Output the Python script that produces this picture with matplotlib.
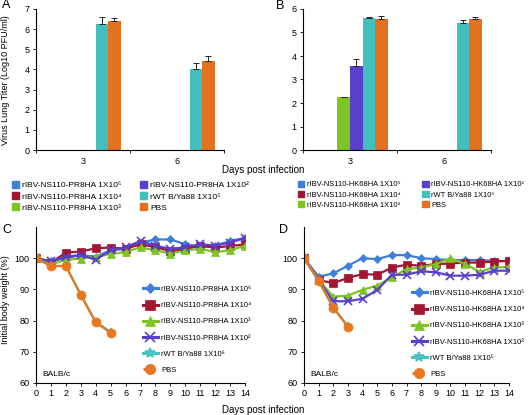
import numpy as np
import matplotlib
matplotlib.use('Agg')
import matplotlib.pyplot as plt
from matplotlib.lines import Line2D
from matplotlib.patches import Patch

plt.rcParams['font.family'] = ['Liberation Sans', 'DejaVu Sans']

W, H = 528, 415

# --- Data: lung titers (bars) ---
bar_days = ['3', '6']
bar_colors = ['#3d7fd9', '#a31530', '#7cc522', '#5a3ecc', '#43bfbf', '#e2721f']

labels_A = ['rIBV-NS110-PR8HA 1X10⁵', 'rIBV-NS110-PR8HA 1X10⁴', 'rIBV-NS110-PR8HA 1X10³',
            'rIBV-NS110-PR8HA 1X10²', 'rWT B/Ya88 1X10⁵', 'PBS']
titer_A = [[0, 0], [0, 0], [0, 0], [0, 0], [6.25, 4.0], [6.40, 4.43]]
err_A = [[0, 0], [0, 0], [0, 0], [0, 0], [0.33, 0.30], [0.13, 0.22]]

labels_B = ['rIBV-NS110-HK68HA 1X10⁵', 'rIBV-NS110-HK68HA 1X10⁴', 'rIBV-NS110-HK68HA 1X10³',
            'rIBV-NS110-HK68HA 1X10²', 'rWT B/Ya88 1X10⁵', 'PBS']
titer_B = [[0, 0], [0, 0], [2.27, 0], [3.59, 0], [5.62, 5.42], [5.56, 5.56]]
err_B = [[0, 0], [0, 0], [0, 0], [0.30, 0], [0.06, 0.10], [0.15, 0.09]]

# --- Data: body weight (lines) ---
days = list(range(15))
labels_C = ['rIBV-NS110-PR8HA 1X10⁶', 'rIBV-NS110-PR8HA 1X10⁴', 'rIBV-NS110-PR8HA 1X10³',
            'rIBV-NS110-PR8HA 1X10²', 'rWT B/Ya88 1X10⁶', 'PBS']
weight_C = [
    [100, 99.0, 100.0, 101.0, 100.5, 102.5, 103.0, 105.0, 106.0, 106.0, 104.5, 103.5, 104.0, 105.5, 106.5],
    [100, 98.5, 101.8, 102.1, 103.2, 103.4, 103.0, 104.5, 103.5, 102.3, 102.9, 104.0, 103.4, 103.9, 104.4],
    [100, 98.0, 99.5, 99.9, 100.5, 101.3, 102.0, 103.5, 102.5, 101.5, 102.5, 103.0, 102.0, 102.5, 104.0],
    [100, 99.0, 100.5, 101.0, 99.5, 102.5, 103.5, 105.5, 104.0, 103.0, 103.5, 104.5, 104.0, 105.0, 106.5],
    [100, 97.5, 97.5, 88.3, 79.6, 76.4],
    [100, 97.5, 97.5, 88.2, 79.4, 76.1],
]
labels_D = ['rIBV-NS110-HK68HA 1X10⁵', 'rIBV-NS110-HK68HA 1X10⁴', 'rIBV-NS110-HK68HA 1X10³',
            'rIBV-NS110-HK68HA 1X10²', 'rWT B/Ya88 1X10⁵', 'PBS']
weight_D = [
    [100, 94.1, 95.1, 97.6, 100.0, 99.7, 101.0, 101.0, 100.0, 99.7, 99.4, 99.4, 99.4, 99.2, 99.0],
    [100, 93.0, 92.0, 93.7, 94.9, 94.7, 97.0, 97.9, 97.6, 98.1, 98.3, 98.6, 98.6, 98.9, 99.2],
    [100, 93.0, 87.7, 88.0, 89.9, 91.2, 93.9, 96.5, 97.0, 98.1, 100.0, 98.1, 95.7, 97.0, 97.2],
    [100, 93.0, 86.2, 86.2, 87.0, 89.8, 94.7, 94.7, 95.8, 95.5, 94.4, 94.4, 94.7, 96.0, 96.0],
    [100, 92.6, 84.3, 78.2],
    [100, 92.8, 84.1, 78.0],
]

line_colors = ['#3d7fd9', '#a31530', '#7cc522', '#5a3ecc', '#45c4c4', '#e8771f']
line_markers = ['D', 's', '^', 'x', '*', 'o']
line_msize = [4.5, 6, 6, 6, 6, 6.5]


def px_axes(fig, left, right, top, bottom):
    return fig.add_axes([left / W, 1 - bottom / H, (right - left) / W, (bottom - top) / H])


def style_axes(ax):
    for s in ['top', 'right']:
        ax.spines[s].set_visible(False)
    for s in ['left', 'bottom']:
        ax.spines[s].set_linewidth(0.8)
    ax.tick_params(labelsize=6.5, length=2.5, width=0.6, pad=2)


fig = plt.figure(figsize=(W / 100, H / 100), dpi=100)


def bar_panel(ax, values, errs, labels, ymax, leg_x, colspace, leg_fs):
    n = len(values)
    width = 0.8 / n
    centers = np.arange(len(bar_days)) + 0.5
    for i in range(n):
        pos = centers + (i - (n - 1) / 2) * width
        vals = np.array(values[i], dtype=float)
        e = np.array(errs[i], dtype=float)
        mask = vals > 0
        if mask.any():
            ax.bar(pos[mask], vals[mask], width, color=bar_colors[i], linewidth=0)
            ax.errorbar(pos[mask], vals[mask], yerr=[np.zeros(mask.sum()), e[mask]],
                        fmt='none', ecolor='#222222', elinewidth=0.7, capsize=2, capthick=0.7)
    ax.set_xlim(0, 2)
    ax.set_ylim(0, ymax)
    ax.set_yticks(range(ymax + 1))
    ax.set_xticks([0, 1, 2])
    ax.set_xticklabels([])
    ax.set_xticks(centers, minor=True)
    ax.set_xticklabels(bar_days, minor=True)
    style_axes(ax)
    ax.tick_params(axis='x', which='minor', length=0, labelsize=6.5, pad=5)
    handles = [Patch(color=c) for c in bar_colors]
    fig.legend(handles, labels, loc='upper left', bbox_to_anchor=(leg_x / W, 1 - 177 / H),
               ncol=2, frameon=False, fontsize=leg_fs, handlelength=0.85, handleheight=0.85,
               handletextpad=0.35, columnspacing=colspace, labelspacing=0.35, borderpad=0)


def line_panel(ax, weights, labels, leg_x, leg_y):
    for i, w in enumerate(weights):
        ax.plot(days[:len(w)], w, color=line_colors[i], marker=line_markers[i],
                markersize=line_msize[i], linewidth=1.6,
                markeredgewidth=1.2 if line_markers[i] in 'x*' else 0.5,
                markeredgecolor=line_colors[i], label=labels[i])
    ax.set_xlim(0, 14)
    ax.set_ylim(60, 110)
    ax.set_yticks([60, 70, 80, 90, 100])
    ax.set_xticks(days)
    style_axes(ax)
    ax.text(0.45, 62.3, 'BALB/c', fontsize=6)
    handles = []
    for i in range(len(labels)):
        ls = ':' if labels[i] == 'PBS' else '-'
        handles.append(Line2D([], [], color=line_colors[i], marker=line_markers[i],
                              markersize=line_msize[i] + 1, linewidth=2.2, linestyle=ls,
                              markeredgewidth=1.2 if line_markers[i] in 'x*' else 0.5))
    ax.legend(handles, labels, loc='upper left', bbox_to_anchor=(leg_x / W, 1 - leg_y / H),
              bbox_transform=fig.transFigure, frameon=False, fontsize=5.5,
              handlelength=2.0, handletextpad=0.4, labelspacing=1.15, borderpad=0)


axA = px_axes(fig, 36, 224, 9, 150)
bar_panel(axA, titer_A, err_A, labels_A, 7, 8, 2.2, 6)
axB = px_axes(fig, 303, 491, 9, 150)
bar_panel(axB, titer_B, err_B, labels_B, 6, 294, 2.9, 5.4)

axC = px_axes(fig, 36, 245, 227, 383)
line_panel(axC, weight_C, labels_C, 139, 282)
axD = px_axes(fig, 304, 509, 227, 383)
line_panel(axD, weight_D, labels_D, 408, 286)

fig.text(6 / W, 1 - 80 / H, 'Virus Lung Titer (Log10 PFU/ml)', fontsize=6.5,
         rotation=90, ha='center', va='center')
fig.text(6 / W, 1 - 300 / H, 'Initial body weight (%)', fontsize=6.5,
         rotation=90, ha='center', va='center')

fig.text(263 / W, 1 - 170 / H, 'Days post infection', fontsize=7, ha='center', va='center')
fig.text(263 / W, 1 - 410 / H, 'Days post infection', fontsize=7, ha='center', va='center')

for letter, x, y in [('A', 2, 5), ('B', 276, 6), ('C', 2, 230), ('D', 279, 230)]:
    fig.text(x / W, 1 - y / H, letter, fontsize=9, ha='left', va='center')

fig.savefig('out.png', dpi=100)
